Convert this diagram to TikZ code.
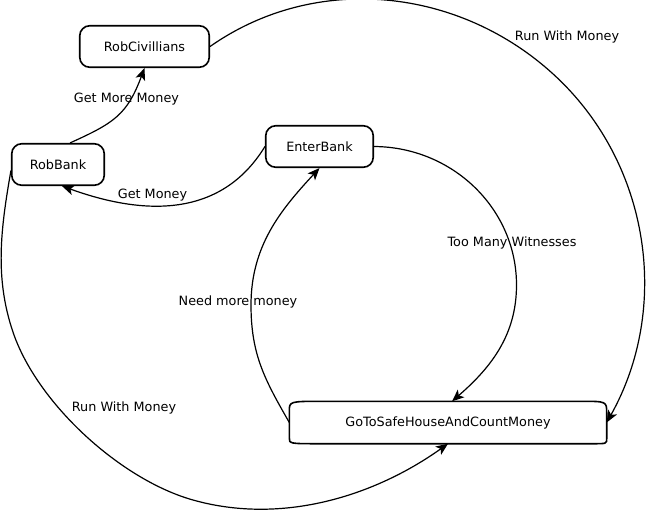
\documentclass[tikz,border=0pt]{standalone}
\usepackage{fontspec}
\setmainfont{DejaVu Sans}
\usetikzlibrary{arrows.meta}
\tikzset{
  state/.style={
    draw, rectangle, rounded corners=10pt, minimum height=41.5pt, line width=1.6pt,
    font=\fontsize{12.8}{15}\selectfont
  },
  bigstate/.style={
    rectangle, minimum height=42pt, minimum width=317pt,
    font=\fontsize{12.8}{15}\selectfont
  },
  lbl/.style={
    inner sep=0pt, anchor=base, font=\fontsize{12.8}{15}\selectfont
  },
  trans/.style={
    -{Stealth[length=12pt,width=10pt,inset=3pt]}, line width=1.2pt
  }
}

\begin{document}
\begin{tikzpicture}[x=1pt, y=-1pt]
  \useasboundingbox (0,0) rectangle (647,512);

  \node[state, minimum width=129.5pt] (rc) at (144.5,46.5) {RobCivillians};
  \node[state, minimum width=92.5pt] (rb) at (58,164.5) {RobBank};
  \node[state, minimum width=107.5pt] (eb) at (319.5,146.5) {EnterBank};
  \node[bigstate] (safe) at (448,422.5) {GoToSafeHouseAndCountMoney};
  % outline of the long box, wide corners
  \draw[line width=1.6pt] ([xshift=34pt]safe.north west) -- ([xshift=-26pt]safe.north east)
    .. controls (safe.north east) .. ([yshift=-12pt]safe.north east)
    -- ([yshift=5pt]safe.south east)
    .. controls (safe.south east) .. ([xshift=-14pt]safe.south east)
    -- ([xshift=30pt]safe.south west)
    .. controls (safe.south west) .. ([yshift=6pt]safe.south west)
    -- ([yshift=-10pt]safe.north west)
    .. controls (safe.north west) .. cycle;

  % get more money
  \draw[trans] ([xshift=12pt]rb.north) .. controls (114,123) and (127,115) .. (rc.south);
  \node[lbl] (gmm) at (126.5,102.3) {Get More Money};

  % get money
  \draw[trans] (eb.west) .. controls (217,225) and (131,211) .. ([xshift=4pt]rb.south);
  \node[lbl] (gm) at (152.5,198.6) {Get Money};

  % run with money, over the top
  \draw[trans] (rc.east) .. controls (316.2,-28) and (460.3,-12.6) .. (555.5,76.2)
    .. controls (650.7,165) and (670.5,308.6) .. (safe.east);
  \node[lbl] (rwm1) at (567,40.1) {Run With Money};

  % run with money, round the bottom
  \draw[trans] ([yshift=-6pt]rb.west) .. controls (0.7,229) and (-5.6,278) .. (13.3,333)
    .. controls (37.8,404) and (120.8,479.7) .. (193,500)
    .. controls (280.6,524.7) and (372.8,497.2) .. (safe.south);
  \node[lbl] (rwm2) at (124,411.3) {Run With Money};

  % too many witnesses
  \draw[trans] (eb.east) .. controls (452.7,147) and (516.5,208.8) .. (516.5,285)
    .. controls (516.5,335) and (491,367.5) .. ([xshift=4pt]safe.north);
  \node[lbl] (tmw) at (512,246.3) {Too Many Witnesses};

  % need more money
  \draw[trans] (safe.west) .. controls (265,380) and (251,355) .. (251,305)
    .. controls (251,246) and (280.6,210) .. (eb.south);
  \node[lbl] (nmm) at (238,305.3) {Need more money};
\end{tikzpicture}
\end{document}
